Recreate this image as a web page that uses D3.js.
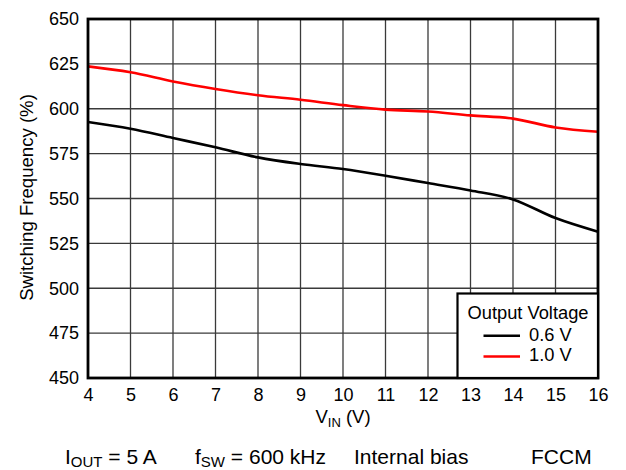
<!DOCTYPE html>
<html><head><meta charset="utf-8">
<script src="https://cdn.jsdelivr.net/npm/d3@7"></script>
<style>body{margin:0;background:#fff}svg text{font-family:"Liberation Sans",Arial,sans-serif;fill:#000}</style>
</head><body><svg id="c" width="626" height="470"></svg>
<script>
const vin = [4,5,6,7,8,9,10,11,12,13,14,15,16];
const v06 = [592.6,588.9,583.7,578.5,572.9,569.2,566.4,562.7,558.6,554.5,549.5,539.1,531.5];
const v10 = [623.6,620.3,615.2,611.0,607.5,605.0,602.0,599.5,598.5,596.3,594.5,589.6,587.2];
const xTicks = [4,5,6,7,8,9,10,11,12,13,14,15,16];
const yTicks = [450,475,500,525,550,575,600,625,650];
const seriesNames = ["0.6 V","1.0 V"];
const seriesColors = ["#000000","#ff0000"];

const svg = d3.select("#c");
const L=88,R=598,T=19,B=378;
const FS=18;
const x = d3.scaleLinear().domain([4,16]).range([L,R]);
const y = d3.scaleLinear().domain([450,650]).range([B,T]);

// grid
svg.append("g").selectAll("line").data(xTicks).join("line")
  .attr("x1",d=>x(d)).attr("x2",d=>x(d)).attr("y1",T).attr("y2",B)
  .attr("stroke","#3a3a3a").attr("stroke-width",1.3);
svg.append("g").selectAll("line").data(yTicks).join("line")
  .attr("x1",L).attr("x2",R).attr("y1",d=>y(d)).attr("y2",d=>y(d))
  .attr("stroke","#3a3a3a").attr("stroke-width",1.3);

// axes labels
const xa = d3.axisBottom(x).tickValues(xTicks).tickSize(0).tickPadding(10).tickFormat(d3.format("d"));
const gx = svg.append("g").attr("transform",`translate(0,${B})`).call(xa);
gx.select(".domain").remove();
gx.selectAll("text").attr("font-size",FS).attr("font-family","Liberation Sans, Arial, sans-serif").attr("fill","#000");
const ya = d3.axisLeft(y).tickValues(yTicks).tickSize(0).tickPadding(9).tickFormat(d3.format("d"));
const gy = svg.append("g").attr("transform",`translate(${L},0)`).call(ya);
gy.select(".domain").remove();
gy.selectAll("text").attr("font-size",FS).attr("font-family","Liberation Sans, Arial, sans-serif").attr("fill","#000");

// lines
const line = d3.line().x((d,i)=>x(vin[i])).y(d=>y(d)).curve(d3.curveMonotoneX);
[v06,v10].forEach((s,i)=>{
  svg.append("path").datum(s).attr("d",line).attr("fill","none")
    .attr("stroke",seriesColors[i]).attr("stroke-width",2.6);
});

// frame
svg.append("rect").attr("x",L).attr("y",T).attr("width",R-L).attr("height",B-T)
  .attr("fill","none").attr("stroke","#000").attr("stroke-width",2.8);

// legend
const lg = svg.append("g");
lg.append("rect").attr("x",457.5).attr("y",293.5).attr("width",R-457.5).attr("height",B-293.5)
  .attr("fill","#fff").attr("stroke","#000").attr("stroke-width",2.2);
lg.append("text").attr("x",528).attr("y",318.5).attr("text-anchor","middle").attr("font-size",18.3).text("Output Voltage");
seriesNames.forEach((n,i)=>{
  const yy = 335.7 + i*20.8;
  lg.append("line").attr("x1",483.5).attr("x2",520).attr("y1",yy).attr("y2",yy)
    .attr("stroke",seriesColors[i]).attr("stroke-width",2.4);
  lg.append("text").attr("x",529).attr("y",yy+4.8).attr("font-size",18.3).text(n);
});

// axis titles
const xt = svg.append("text").attr("x",343).attr("y",423).attr("text-anchor","middle").attr("font-size",18.5);
xt.append("tspan").text("V");
xt.append("tspan").attr("font-size",13).attr("dy",4).text("IN");
xt.append("tspan").attr("dy",-4).text(" (V)");
svg.append("text").attr("transform",`translate(32.5,197.5) rotate(-90)`).attr("text-anchor","middle")
  .attr("font-size",18.6).text("Switching Frequency (%)");

// footer
function foot(xp, main, s, rest){
  const t = svg.append("text").attr("x",xp).attr("y",464).attr("font-size",21);
  t.append("tspan").text(main);
  if(s){ t.append("tspan").attr("font-size",15).attr("dy",3).text(s);
         t.append("tspan").attr("dy",-3).text(rest); }
}
foot(65,"I","OUT"," = 5 A");
foot(195,"f","SW"," = 600 kHz");
foot(354,"Internal bias");
foot(531,"FCCM");
</script></body></html>
